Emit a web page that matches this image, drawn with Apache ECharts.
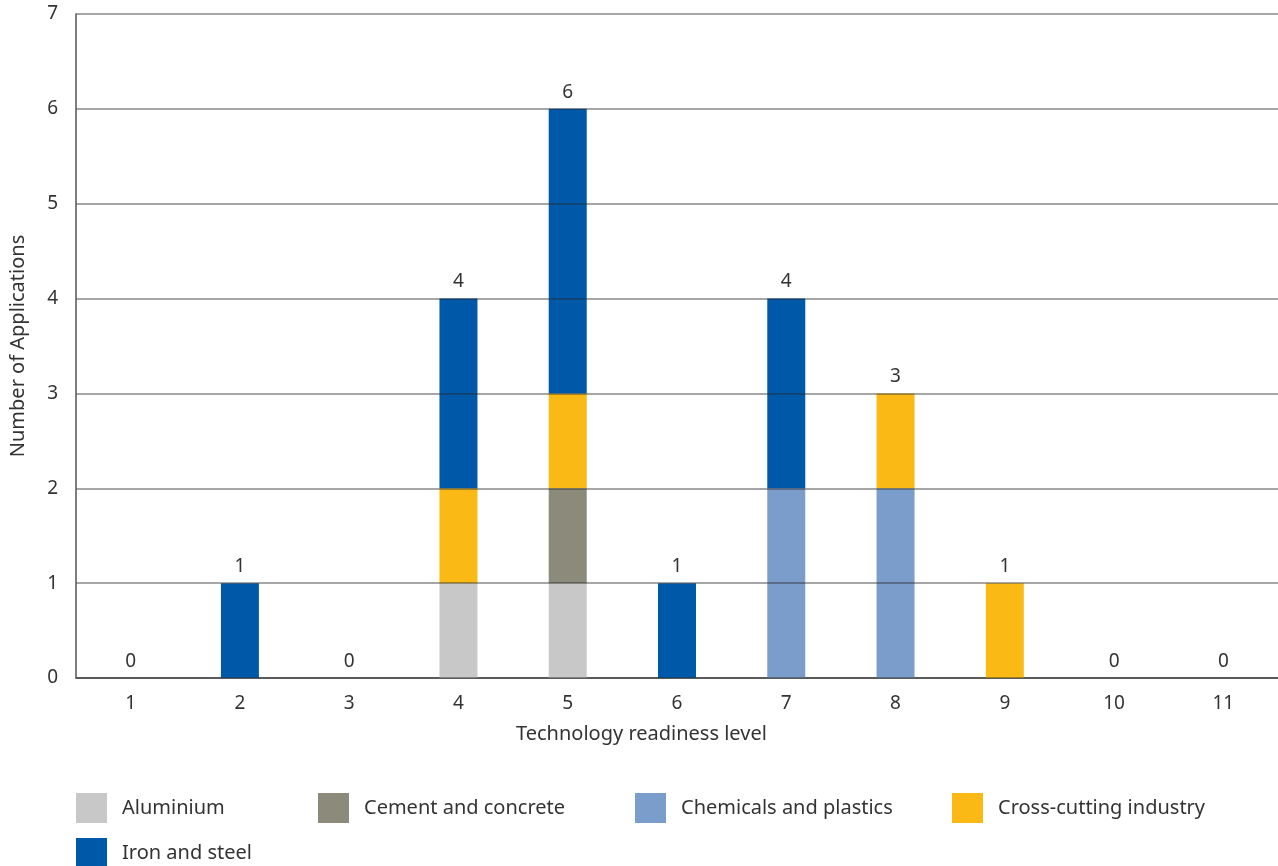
<!DOCTYPE html>
<html>
<head>
    <meta charset="utf-8">
    <title>TRL chart</title>
    <script src="https://cdn.jsdelivr.net/npm/echarts@6/dist/echarts.min.js"></script>
</head>
<body style="margin:0">
<div id="main" style="width:1278px;height:866px;"></div>

<script type="text/javascript">
    // categories (technology readiness level)
    var levels = ['1', '2', '3', '4', '5', '6', '7', '8', '9', '10', '11'];
    // applications per sector
    var aluminium = [0, 0, 0, 1, 1, 0, 0, 0, 0, 0, 0];
    var cement = [0, 0, 0, 0, 1, 0, 0, 0, 0, 0, 0];
    var chemicals = [0, 0, 0, 0, 0, 0, 2, 2, 0, 0, 0];
    var crossCutting = [0, 0, 0, 1, 1, 0, 0, 1, 1, 0, 0];
    var ironSteel = [0, 1, 0, 2, 3, 1, 2, 0, 0, 0, 0];
    var yTicks = [0, 1, 2, 3, 4, 5, 6, 7];

    var sectors = [
        {name: 'Aluminium', data: aluminium, color: '#c8c8c9'},
        {name: 'Cement and concrete', data: cement, color: '#8b8a7b'},
        {name: 'Chemicals and plastics', data: chemicals, color: '#7b9dcc'},
        {name: 'Cross-cutting industry', data: crossCutting, color: '#fbb915'},
        {name: 'Iron and steel', data: ironSteel, color: '#0059a8'}
    ];

    var totals = levels.map(function (l, i) {
        var s = 0;
        sectors.forEach(function (sec) { s += sec.data[i]; });
        return s;
    });

    var font = 'Noto Sans';
    var fs = 19;
    var fsBig = 20;
    var txt = '#333';

    var series = sectors.map(function (sec) {
        return {
            name: sec.name,
            type: 'bar',
            stack: 'all',
            barWidth: 38,
            itemStyle: {color: sec.color},
            data: sec.data
        };
    });
    // invisible series on top of each stack, carries the total label
    series.push({
        name: 'total',
        type: 'bar',
        stack: 'all',
        barWidth: 38,
        data: levels.map(function () { return 0; }),
        label: {
            show: true,
            position: 'top',
            distance: 7,
            fontFamily: font,
            fontSize: fs,
            color: txt,
            formatter: function (p) { return totals[p.dataIndex]; }
        }
    });

    // legend positions copied from the original layout
    var legendPos = [[76, 793], [318, 793], [635, 793], [952, 793], [76, 838]];
    var legends = sectors.map(function (sec, i) {
        return {
            data: [sec.name],
            left: legendPos[i][0],
            top: legendPos[i][1],
            padding: 0,
            itemWidth: 31,
            itemHeight: 30,
            icon: 'rect',
            textStyle: {fontFamily: font, fontSize: fsBig, color: txt, padding: [0, 0, 0, 10]}
        };
    });

    var option = {
        animation: false,
        title: {
            text: 'Technology readiness level',
            left: 516,
            top: 724,
            padding: 0,
            textStyle: {fontFamily: font, fontSize: fsBig, fontWeight: 'normal', color: txt}
        },
        legend: legends,
        grid: {left: 76, right: 0, top: 14, bottom: 188, outerBoundsMode: 'none'},
        xAxis: {
            type: 'category',
            data: levels,
            axisLine: {lineStyle: {color: '#555', width: 1.5}},
            axisTick: {show: false},
            axisLabel: {fontFamily: font, fontSize: fs, color: txt, margin: 16}
        },
        yAxis: {
            type: 'value',
            min: yTicks[0],
            max: yTicks[yTicks.length - 1],
            interval: 1,
            z: 10,
            name: 'Number of Applications',
            nameLocation: 'middle',
            nameGap: 48,
            nameTextStyle: {fontFamily: font, fontSize: fsBig, color: txt},
            axisLine: {show: true, lineStyle: {color: '#555', width: 1.5}},
            axisTick: {show: false},
            axisLabel: {fontFamily: font, fontSize: fs, color: txt, margin: 18},
            splitLine: {lineStyle: {color: 'rgba(40,40,40,0.55)', width: 1.5}}
        },
        series: series
    };

    var myChart = echarts.init(document.getElementById('main'));
    myChart.setOption(option);
</script>
</body>
</html>
